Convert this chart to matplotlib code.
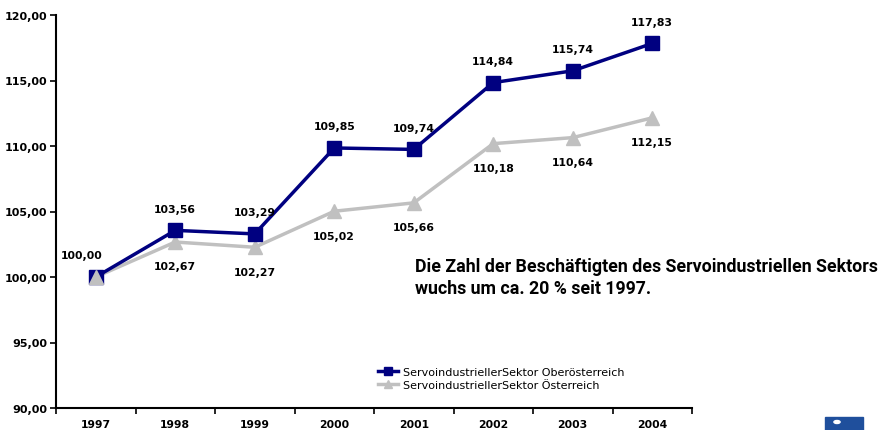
import matplotlib
matplotlib.use('Agg')
import matplotlib.pyplot as plt
import numpy as np

years = ['1997', '1998', '1999', '2000', '2001', '2002', '2003', '2004']
ooe = [100.00, 103.56, 103.29, 109.85, 109.74, 114.84, 115.74, 117.83]
oe = [100.00, 102.67, 102.27, 105.02, 105.66, 110.18, 110.64, 112.15]

def fmt(v):
	return '{:.2f}'.format(v).replace('.', ',')

fig = plt.figure(figsize=(8.82, 4.31), dpi=100)
ax = fig.add_axes([56 / 882, 1 - 409 / 431, (692 - 56) / 882, (409 - 16) / 431])

x = np.arange(len(years))
ax.plot(x, oe, color='#c0c0c0', lw=2.5, marker='^', ms=10, mec='#c0c0c0', mfc='#c0c0c0',
	label='ServoindustriellerSektor Österreich', zorder=2)
ax.plot(x, ooe, color='#000080', lw=2.5, marker='s', ms=10, mec='#000080', mfc='#000080',
	label='ServoindustriellerSektor Oberösterreich', zorder=3)
# gray triangle drawn again on top of the first point
ax.plot(x[:1], oe[:1], ls='none', marker='^', ms=10, mec='#c0c0c0', mfc='#c0c0c0', zorder=4)

# value labels
for i, v in enumerate(ooe):
	dx = -10 if i == 0 else 0
	ax.annotate(fmt(v), (x[i], v), xytext=(dx, 12), textcoords='offset points',
		ha='center', va='bottom', fontsize=7.8, fontweight='bold')
for i, v in enumerate(oe):
	if i == 0:
		continue
	ax.annotate(fmt(v), (x[i], v), xytext=(0, -14), textcoords='offset points',
		ha='center', va='top', fontsize=7.8, fontweight='bold')

ax.set_xlim(-0.5, 7.5)
ax.set_ylim(90, 120)
ax.set_yticks(np.arange(90, 121, 5))
ax.set_yticklabels([fmt(t) for t in np.arange(90, 121, 5)], fontsize=8, fontweight='bold')
ax.set_xticks(np.arange(-0.5, 8, 1))
ax.set_xticklabels([])
ax.set_xticks(x, minor=True)
ax.set_xticklabels(years, minor=True, fontsize=7.8, fontweight='bold')
ax.tick_params(axis='x', which='minor', length=0, pad=8)
ax.tick_params(axis='x', which='major', length=4, width=1.2)
ax.tick_params(axis='y', length=4, width=1.2, pad=2)
for s in ['top', 'right']:
	ax.spines[s].set_visible(False)
for s in ['left', 'bottom']:
	ax.spines[s].set_linewidth(1.5)

handles, labels = ax.get_legend_handles_labels()
leg = ax.legend(handles[::-1], labels[::-1], loc='lower left', bbox_to_anchor=(0.49, 0.02),
	frameon=False, fontsize=8, handlelength=1.8, handletextpad=0.5, labelspacing=0.3, markerscale=0.6)

note = fig.text(415 / 882, 1 - 278 / 431, 'Die Zahl der Beschäftigten des Servoindustriellen Sektors\nwuchs um ca. 20 % seit 1997.',
	fontsize=13, fontweight='bold', family=['Roboto', 'DejaVu Sans'],
	va='center', ha='left', linespacing=1.3)
# shrink the note so it fits between x=415 and x=877 px
fig.canvas.draw()
w = note.get_window_extent(renderer=fig.canvas.get_renderer()).width
if w > 460:
	note.set_fontsize(13 * 460 / w)

# logo corner
fig.patches.append(plt.Rectangle((825 / 882, 0), 38 / 882, 13 / 431, transform=fig.transFigure,
	color='#1f4f9c', zorder=5))
fig.patches.append(matplotlib.patches.Circle((837 / 882, 8 / 431), 0.0035, transform=fig.transFigure,
	color='white', zorder=6))

fig.savefig('out.png', dpi=100)
